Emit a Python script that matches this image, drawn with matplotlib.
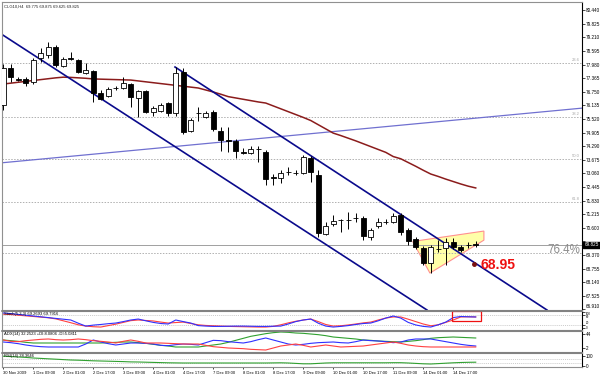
import matplotlib
matplotlib.use('Agg')
import matplotlib.pyplot as plt
from matplotlib.patches import Polygon, Rectangle
from matplotlib.lines import Line2D
import matplotlib.transforms as mtrans

# ---------------- data ----------------
opens = [76.15, 77.82, 77.33, 77.33, 77.19, 78.27, 78.41, 78.77, 77.91, 78.27,
         78.18, 77.60, 77.69, 76.69, 76.56, 76.92, 76.92, 77.10, 76.47, 76.78,
         75.83, 75.88, 76.24, 75.79, 77.64, 74.97, 75.79, 75.61, 75.83, 74.97,
         74.57, 74.52, 74.02, 73.98, 74.16, 74.02, 72.89, 72.85, 73.12, 73.07,
         73.07, 73.75, 72.98, 70.31, 70.77, 70.95, 70.95, 71.04, 71.04, 70.18,
         70.68, 70.86, 70.86, 71.17, 70.50, 70.09, 69.68, 69.00, 69.64, 69.68,
         69.95, 69.73, 69.82, 69.86]
highs = [78.00, 78.00, 77.42, 77.42, 78.27, 78.73, 79.00, 78.86, 78.32, 78.55,
         78.23, 78.05, 77.73, 76.83, 76.96, 77.01, 77.42, 77.14, 76.83, 76.83,
         76.10, 76.24, 76.28, 77.87, 77.82, 75.56, 76.06, 75.88, 75.92, 75.15,
         75.15, 74.61, 74.19, 74.30, 74.30, 74.12, 73.03, 73.21, 73.35, 73.21,
         73.89, 73.84, 73.21, 70.86, 71.17, 70.99, 71.31, 71.27, 71.13, 70.59,
         71.04, 70.99, 71.27, 71.27, 70.59, 70.18, 69.77, 69.82, 70.04, 70.13,
         70.13, 69.82, 69.95, 70.00]
lows = [75.92, 77.19, 77.24, 77.01, 77.10, 78.09, 78.27, 77.87, 77.87, 78.18,
        77.60, 77.55, 76.28, 76.38, 76.51, 76.83, 76.87, 76.06, 75.61, 75.79,
        75.65, 75.83, 75.65, 75.65, 74.84, 74.93, 75.43, 75.56, 74.97, 74.07,
        74.02, 73.75, 73.93, 73.93, 73.57, 72.53, 72.53, 72.62, 72.98, 72.98,
        73.03, 72.67, 70.18, 70.27, 70.68, 70.41, 70.54, 70.86, 70.04, 70.04,
        70.59, 70.77, 70.81, 70.27, 69.82, 69.64, 68.91, 68.55, 69.50, 68.91,
        69.64, 69.50, 69.68, 69.73]
closes = [77.82, 77.42, 77.28, 77.14, 78.18, 78.50, 78.77, 77.96, 78.23, 78.25,
          77.64, 77.73, 76.69, 76.42, 76.87, 76.90, 77.14, 76.51, 76.78, 75.83,
          76.01, 76.15, 75.79, 77.60, 74.93, 75.47, 75.77, 75.79, 75.06, 74.57,
          74.53, 74.07, 74.00, 74.16, 74.14, 72.80, 72.87, 73.07, 73.10, 73.09,
          73.80, 73.12, 70.36, 70.68, 70.90, 70.93, 70.96, 71.02, 70.22, 70.50,
          70.86, 70.84, 71.13, 70.41, 70.00, 69.73, 69.00, 69.73, 69.62, 69.95,
          69.73, 69.59, 69.80, 69.83]
moving_avg = [77.10, 77.14, 77.18, 77.22, 77.26, 77.30, 77.34, 77.38, 77.41, 77.40,
              77.38, 77.36, 77.33, 77.32, 77.31, 77.30, 77.29, 77.28, 77.24, 77.20,
              77.16, 77.12, 77.08, 77.04, 77.00, 76.96, 76.92, 76.83, 76.74, 76.64,
              76.53, 76.47, 76.41, 76.35, 76.29, 76.24, 76.11, 75.98, 75.85, 75.72,
              75.59, 75.45, 75.26, 75.07, 74.88, 74.77, 74.65, 74.53, 74.40, 74.27,
              74.14, 74.01, 73.82, 73.72, 73.55, 73.38, 73.20, 73.03, 72.92, 72.80,
              72.69, 72.58, 72.48, 72.40]
stoch_main = [94, 90, 85, 80, 75, 70, 65, 60, 55, 50, 30, 12, 18, 22, 27, 31, 40, 50, 56, 45,
              35, 28, 25, 50, 40, 31, 15, 12, 10, 10, 11, 12, 12, 11, 10, 10, 11, 12, 25, 40,
              50, 56, 30, 12, 6, 10, 15, 22, 28, 31, 45, 62, 75, 62, 35, 19, 10, 6, 20, 37,
              65, 72, 70, 69]
stoch_signal = [87, 84, 80, 76, 72, 68, 64, 57, 45, 33, 20, 12, 8, 6, 15, 24, 35, 46, 50, 47,
                44, 37, 31, 34, 37, 28, 20, 16, 14, 12, 10, 9, 8, 7, 6, 6, 10, 20, 32, 42,
                50, 56, 40, 22, 12, 14, 19, 25, 32, 37, 50, 62, 69, 69, 55, 40, 25, 14, 20, 35,
                50, 69, 70, 69]
adx_line = [26, 24, 22, 19, 17, 17, 17, 17, 17, 17, 17, 17, 17, 17, 18, 19, 20, 20, 18, 16,
            13, 10, 8, 5, 5, 5, 5, 8, 11, 14, 19, 25, 31, 37, 41, 45, 48, 50, 49, 47,
            46, 44, 42, 39, 35, 33, 31, 29, 26, 25, 23, 22, 21, 20, 22, 24, 27, 31, 33, 34,
            35, 34, 33, 32]
plus_di = [20, 18, 15, 11, 8, 6, 5, 5, 5, 5, 5, 14, 26, 20, 15, 11, 14, 17, 17, 16,
           14, 10, 9, 12, 14, 13, 11, 18, 25, 24, 21, 19, 17, 21, 27, 32, 26, 20, 14, 11,
           13, 16, 18, 19, 20, 18, 17, 21, 26, 24, 23, 21, 18, 20, 26, 29, 29, 29, 25, 21,
           17, 13, 10, 8]
minus_di = [26, 22, 21, 24, 26, 28, 29, 27, 26, 27, 29, 27, 24, 22, 20, 17, 22, 26, 22, 17,
            17, 17, 16, 15, 14, 14, 14, 10, 6, 4, 2, 1, 0, -2, -3, -4, 2, 8, 11, 14,
            10, 5, 8, 11, 8, 5, 6, 7, 8, 11, 14, 17, 20, 16, 11, 8, 6, 5, 5, 5,
            5, 5, 5, 5]
rsi_line = [98, 94, 90, 86, 80, 76, 72, 68, 64, 60, 58, 55, 52, 50, 48, 46, 44, 41, 40, 38,
            36, 34, 32, 31, 30, 30, 30, 30, 30, 30, 30, 30, 30, 30, 30, 30, 31, 32, 30, 26,
            22, 22, 26, 30, 32, 32, 32, 32, 32, 32, 32, 32, 33, 33, 30, 26, 22, 20, 24, 28,
            32, 35, 37, 38]

x_label_bars = [0, 4, 8, 12, 16, 20, 24, 28, 32, 36, 40, 44, 48, 52, 56, 60]
x_labels = ['30 Nov 2009', '1 Dec 09:00', '2 Dec 01:00', '2 Dec 17:00', '3 Dec 09:00',
            '4 Dec 01:00', '4 Dec 17:00', '7 Dec 09:00', '8 Dec 01:00', '8 Dec 17:00',
            '9 Dec 09:00', '10 Dec 01:00', '10 Dec 17:00', '11 Dec 09:00',
            '14 Dec 01:00', '14 Dec 17:00']
price_ticks = [66.910, 67.525, 68.140, 68.755, 69.370, 69.985, 70.600, 71.215, 71.830,
               72.445, 73.060, 73.675, 74.290, 74.905, 75.520, 76.135, 76.750, 77.365,
               77.980, 78.595, 79.210, 79.825, 80.440]

channel_lower_x = [-0.44, 56.5]
channel_lower_y = [79.40, 66.88]
channel_upper_x = [22.9, 72.5]
channel_upper_y = [77.87, 66.88]
rising_x = [-0.44, 77.17]
rising_y = [73.53, 76.01]
fib_levels = [78.05, 75.61, 73.71, 71.76, 69.46]
fib_names = ['23.6', '38.2', '50.0', '61.8', '']
pennant_x = [54.6, 64.09, 64.09, 56.89]
pennant_y = [69.98, 70.45, 70.04, 68.55]
target_bar, target_price, target_text = 62.8, 68.96, '68.95'
bid_price = 69.825
title = 'CLG10,H4  69.775 69.875 69.625 69.825'

# ---------------- figure ----------------
FONT = 'Liberation Sans'
plt.rcParams['font.family'] = [FONT, 'DejaVu Sans']
W, H = 600, 376
fig = plt.figure(figsize=(6, 3.76), dpi=100)
fig.patch.set_facecolor('white')

def box(top, bottom):
    return [2 / W, 1 - bottom / H, 580 / W, (bottom - top) / H]

ax = fig.add_axes(box(2, 310))
ax_st = fig.add_axes(box(311, 330))
ax_adx = fig.add_axes(box(331, 352))
ax_rsi = fig.add_axes(box(353, 367))
xlim = (-0.17, 77.17)
n = len(opens)
bars = list(range(n))

for a in (ax, ax_st, ax_adx, ax_rsi):
    a.set_xlim(*xlim)
    a.yaxis.tick_right()
    a.tick_params(axis='y', which='both', direction='out', length=2, width=0.5,
                  labelsize=3.3, pad=1, colors='black')
    a.tick_params(axis='x', length=0, labelbottom=False)
    for s in ('left', 'top', 'bottom'):
        a.spines[s].set_color('#909090')
        a.spines[s].set_linewidth(0.8)
    a.spines['right'].set_color('black')
    a.spines['right'].set_linewidth(0.8)

# ---- main chart ----
ax.set_ylim(66.88, 80.81)
ax.set_yticks(price_ticks)
# the tick at the bid price is hidden behind the bid label box, as in the terminal
ax.set_yticklabels(['' if abs(v - bid_price) < 0.2 else '%.3f' % v for v in price_ticks])
ax.get_yticklabels()[0].set_va('bottom')

ax.add_patch(Polygon(list(zip(pennant_x, pennant_y)), closed=True,
                     facecolor='#ffffa8', edgecolor='#ff9090', lw=0.8, zorder=1))

for lv, nm in zip(fib_levels, fib_names):
    ax.axhline(lv, color='#b0b0b0', lw=0.7, ls=(0, (1.5, 1.5)), zorder=1.2)
    if nm:
        ax.text(76.9, lv + 0.03, nm, fontsize=3, color='#a8a8a8', ha='right', va='bottom')

ax.axhline(bid_price, color='#a0a0a0', lw=0.7, zorder=1.3)

ax.plot(rising_x, rising_y, color='#7070d0', lw=0.9, zorder=2)
ax.plot(bars, moving_avg, color='#8b1c1c', lw=1.1, zorder=2)
ax.plot(channel_lower_x, channel_lower_y, color='#0a0a8c', lw=1.2, zorder=2.2)
ax.plot(channel_upper_x, channel_upper_y, color='#0a0a8c', lw=1.2, zorder=2.2)

ax.vlines(bars, lows, highs, color='black', lw=0.7, zorder=3)
bottoms = [min(o, c) for o, c in zip(opens, closes)]
heights = [abs(c - o) for o, c in zip(opens, closes)]
colors = ['white' if c >= o else 'black' for o, c in zip(opens, closes)]
ax.bar(bars, heights, bottom=bottoms, width=0.62, color=colors,
       edgecolor='black', linewidth=0.6, zorder=3.5)

ax.plot([target_bar], [target_price], 'o', color='#7a1010', ms=2.5, zorder=4)
ax.text(target_bar + 0.9, target_price - 0.06, target_text, color='#ee1111',
        fontsize=10, fontweight='bold', ha='left', va='center', zorder=5)
ax.text(76.95, 69.59, '76.4%', color='#8c8c8c', fontsize=8.4, ha='right',
        va='center', zorder=5)
ax.text(0.003, 0.993, title, transform=ax.transAxes, fontsize=3, va='top',
        ha='left', color='#202020')

tr = mtrans.blended_transform_factory(ax.transAxes, ax.transData)
ax.text(1.004, bid_price, '%.3f' % bid_price, transform=tr, fontsize=3.3,
        color='white', ha='left', va='center', zorder=6,
        bbox=dict(facecolor='black', edgecolor='black', pad=0.6))

# ---- stochastic ----
ax_st.set_ylim(-12.5, 106.25)
ax_st.set_yticks([100, 80, 20, 0])
ax_st.set_yticklabels(['100', '80', '20', '0'])
ax_st.tick_params(axis='y', labelsize=2.2, pad=1)
for lbl, va in zip(ax_st.get_yticklabels(), ['top', 'top', 'bottom', 'center']):
    lbl.set_va(va)
for lv in (80, 20):
    ax_st.axhline(lv, color='#b8b8b8', lw=0.5, ls=(0, (1.5, 1.5)))
ax_st.plot(bars, stoch_signal, color='#ff4040', lw=0.8)
ax_st.plot(bars, stoch_main, color='#3030ff', lw=0.8)
ax_st.text(0.004, 0.95, 'Stoch(5,3,3) 69.2693 69.7916', transform=ax_st.transAxes,
           fontsize=3, va='top', ha='left')
ax_st.add_patch(Rectangle((59.8, 45), 3.9, 61.25, fill=False, edgecolor='#ee1111',
                          lw=0.9, clip_on=False, zorder=5))

# ---- ADX ----
ax_adx.set_ylim(-10, 53)
ax_adx.set_yticks([44, 2])
ax_adx.set_yticklabels(['44', '2'])
ax_adx.plot(bars, adx_line, color='#30a030', lw=0.8)
ax_adx.plot(bars, plus_di, color='#3030ff', lw=0.8)
ax_adx.plot(bars, minus_di, color='#ff4040', lw=0.8)
ax_adx.text(0.004, 0.95, 'ADX(14) 32.2523 +DI:8.0806 -DI:5.0811',
            transform=ax_adx.transAxes, fontsize=3, va='top', ha='left')

# ---- RSI ----
ax_rsi.set_ylim(-10, 130)
ax_rsi.set_yticks([100, 0])
ax_rsi.set_yticklabels(['100', '0'])
for lv in (70, 30):
    ax_rsi.axhline(lv, color='#b8b8b8', lw=0.5, ls=(0, (1.5, 1.5)))
ax_rsi.plot(bars, rsi_line, color='#30a030', lw=0.8)
ax_rsi.text(0.004, 0.95, 'RSI(14) 38.3646', transform=ax_rsi.transAxes,
            fontsize=3, va='top', ha='left')

ax_rsi.set_xticks(x_label_bars)
ax_rsi.set_xticklabels(x_labels)
ax_rsi.tick_params(axis='x', labelbottom=True, length=1.5, width=0.5,
                   labelsize=3, pad=1.5)
for lbl in ax_rsi.get_xticklabels():
    lbl.set_ha('left')

# panel separators
for yp in (310.5, 330.5, 352.5):
    fig.add_artist(Line2D([2 / W, 582 / W], [1 - yp / H, 1 - yp / H],
                          color='#808080', lw=1.2))

fig.savefig('out.png', dpi=100, facecolor='white')
